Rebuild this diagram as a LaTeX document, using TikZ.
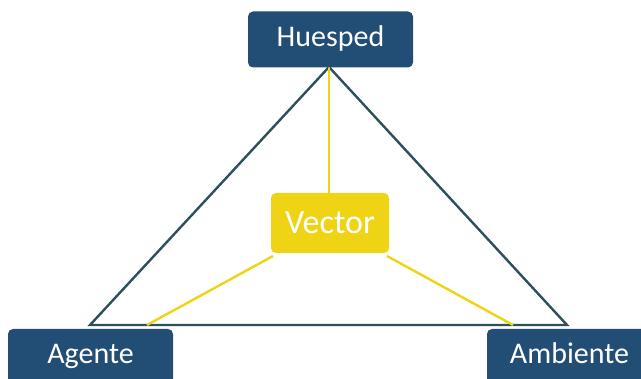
\documentclass[tikz,border=0pt]{standalone}
\usepackage{fontspec}
\setmainfont{Carlito}
\definecolor{boxblue}{RGB}{34,78,117}
\definecolor{edgeslate}{RGB}{45,80,90}
\definecolor{vecgold}{RGB}{238,212,20}
\begin{document}
\begin{tikzpicture}[x=1pt,y=-1pt,
  rolebox/.style={draw=none,fill=boxblue,rounded corners=5pt,text=white,
    minimum width=165pt,minimum height=56pt,inner sep=0pt,
    text height=20pt,text depth=6pt,
    font=\fontsize{30}{33}\selectfont},
  vecbox/.style={draw=none,fill=vecgold,rounded corners=5pt,text=white,
    minimum width=118pt,minimum height=60pt,inner sep=0pt,
    font=\fontsize{34}{38}\selectfont},
  tri/.style={draw=edgeslate,line width=2.4pt,line join=miter},
  link/.style={draw=vecgold,line width=2.4pt}]
\useasboundingbox (0,0) rectangle (641,379);

% triangle corners and link end points
\coordinate (apex) at (329,67);
\coordinate (bl) at (90,325);
\coordinate (br) at (567,325);
\coordinate (vsw) at (273,256);
\coordinate (vse) at (387,256);
\coordinate (bleft) at (147,325);
\coordinate (bright) at (513,325);
\coordinate (vtop) at (329,193);

\draw[tri] (apex) -- (bl) -- (br) -- cycle;
\draw[link] (apex) -- (vtop);
\draw[link] (vsw) -- (bleft);
\draw[link] (vse) -- (bright);

\node[rolebox] (huesped) at (330.5,39.5) {Huesped};
\node[rolebox] (agente) at (90.5,357) {Agente};
\node[rolebox] (ambiente) at (569.5,357) {Ambiente};
\node[vecbox] (vector) at (330,223) {Vector};
\end{tikzpicture}
\end{document}
